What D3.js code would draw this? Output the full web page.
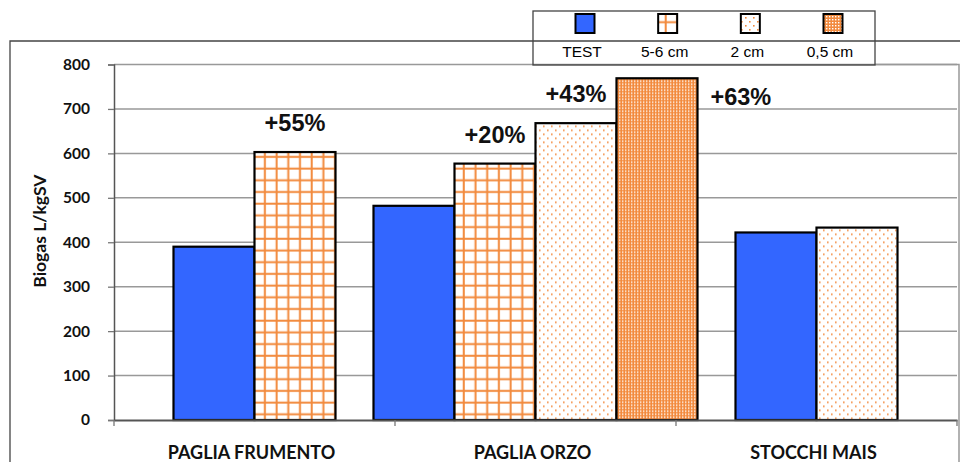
<!DOCTYPE html>
<html>
<head>
<meta charset="utf-8">
<script src="https://cdn.jsdelivr.net/npm/d3@7"></script>
<style>
  body { margin: 0; background: #fff; }
  svg { display: block; }
</style>
</head>
<body>
<svg id="chart" width="960" height="462"></svg>
<script>
const categories = ["PAGLIA FRUMENTO", "PAGLIA ORZO", "STOCCHI MAIS"];
const seriesNames = ["TEST", "5-6 cm", "2 cm", "0,5 cm"];
// values per category, in series order (null = no bar)
const frumento = [390, 603, null, null];
const orzo = [482, 577, 668, 769];
const mais = [422, null, 433, null];
const yTicks = [0, 100, 200, 300, 400, 500, 600, 700, 800];
const annotations = [
  { cat: "PAGLIA FRUMENTO", series: "5-6 cm", text: "+55%" },
  { cat: "PAGLIA ORZO", series: "5-6 cm", text: "+20%" },
  { cat: "PAGLIA ORZO", series: "2 cm", text: "+43%" },
  { cat: "PAGLIA ORZO", series: "0,5 cm", text: "+63%" }
];

const values = [frumento, orzo, mais];
const orange = "#f28a3d";

const svg = d3.select("#chart");
const margin = { top: 64.5, right: 3, bottom: 42, left: 114 };
const width = 960 - margin.left - margin.right;
const height = 462 - margin.top - margin.bottom;

// patterns
const defs = svg.append("defs");
const grid = defs.append("pattern").attr("id", "p-grid")
  .attr("patternUnits", "userSpaceOnUse").attr("width", 11.7).attr("height", 11.7);
grid.append("rect").attr("width", 11.7).attr("height", 11.7).attr("fill", "#fff");
grid.append("rect").attr("x", 9.5).attr("width", 2).attr("height", 11.7).attr("fill", orange);
grid.append("rect").attr("y", 9.5).attr("width", 11.7).attr("height", 2).attr("fill", orange);

const dots = defs.append("pattern").attr("id", "p-dots")
  .attr("patternUnits", "userSpaceOnUse").attr("width", 8).attr("height", 8);
dots.append("rect").attr("width", 8).attr("height", 8).attr("fill", "#fff");
dots.append("rect").attr("x", 1).attr("y", 1).attr("width", 1.6).attr("height", 1.6).attr("fill", orange);
dots.append("rect").attr("x", 5).attr("y", 5).attr("width", 1.6).attr("height", 1.6).attr("fill", orange);

const dense = defs.append("pattern").attr("id", "p-dense")
  .attr("patternUnits", "userSpaceOnUse").attr("width", 3).attr("height", 3);
dense.append("rect").attr("width", 3).attr("height", 3).attr("fill", orange);
dense.append("rect").attr("x", 1).attr("y", 1).attr("width", 1.4).attr("height", 1.4).attr("fill", "#fff");

const fills = {
  "TEST": "#3366ff",
  "5-6 cm": "url(#p-grid)",
  "2 cm": "url(#p-dots)",
  "0,5 cm": "url(#p-dense)"
};

// outer frame
svg.append("path").attr("d", "M10,462V41H960")
  .attr("fill", "none").attr("stroke", "#444").attr("stroke-width", 1.3);
svg.append("path").attr("d", "M875,64.5H959V462")
  .attr("fill", "none").attr("stroke", "#999").attr("stroke-width", 1.5);

const g = svg.append("g").attr("transform", `translate(${margin.left},${margin.top})`);

const x = d3.scaleBand().domain(categories).range([0, width]).padding(0);
const y = d3.scaleLinear().domain([0, 800]).range([height, 0]);
const barW = 81;

// gridlines
g.append("g").selectAll("line").data(yTicks.slice(1)).join("line")
  .attr("x1", 0).attr("x2", width)
  .attr("y1", d => y(d)).attr("y2", d => y(d))
  .attr("stroke", "#999").attr("stroke-width", 1.5);

// bars
const barData = [];
categories.forEach((c, ci) => {
  const present = seriesNames.filter((s, si) => values[ci][si] != null);
  const inner = d3.scaleBand().domain(present)
    .range([x(c) + x.bandwidth() / 2 - present.length * barW / 2,
            x(c) + x.bandwidth() / 2 + present.length * barW / 2]);
  present.forEach(s => {
    barData.push({ cat: c, series: s, value: values[ci][seriesNames.indexOf(s)],
      x0: inner(s), w: inner.bandwidth() });
  });
});

g.selectAll(".bar").data(barData).join("rect")
  .attr("class", "bar")
  .attr("x", d => d.x0)
  .attr("y", d => y(d.value))
  .attr("width", d => d.w)
  .attr("height", d => y(0) - y(d.value))
  .attr("fill", d => fills[d.series])
  .attr("stroke", "#000")
  .attr("stroke-width", 2.2);

// y axis
const yAxis = g.append("g")
  .call(d3.axisLeft(y).tickValues(yTicks).tickSize(6).tickPadding(18));
yAxis.select(".domain").attr("stroke", "#555").attr("stroke-width", 1.5);
yAxis.selectAll(".tick line").attr("stroke", "#777").attr("stroke-width", 1.3);
yAxis.selectAll("text")
  .attr("font-family", "Lato, 'Open Sans', sans-serif")
  .attr("font-weight", "bold").attr("font-size", "15.5px").attr("fill", "#111");

// x axis
const xAxis = g.append("g").attr("transform", `translate(0,${height})`)
  .call(d3.axisBottom(x).tickSize(0).tickPadding(26));
xAxis.select(".domain").attr("stroke", "#555").attr("stroke-width", 2);
xAxis.selectAll("text")
  .attr("font-family", "Lato, 'Open Sans', sans-serif")
  .attr("font-weight", "bold").attr("font-size", "18px").attr("fill", "#111")
  .attr("dx", "-3");
xAxis.append("g").selectAll("line")
  .data([0, ...categories.map(c => x(c) + x.bandwidth())])
  .join("line")
  .attr("x1", d => d).attr("x2", d => d).attr("y1", 0).attr("y2", 6)
  .attr("stroke", "#777").attr("stroke-width", 1.3);

// y title
g.append("text")
  .attr("transform", `translate(-68,${y(425)}) rotate(-90)`)
  .attr("text-anchor", "middle")
  .attr("font-family", "Lato, 'Open Sans', sans-serif")
  .attr("font-weight", "bold").attr("font-size", "17.5px").attr("fill", "#111")
  .text("Biogas L/kgSV");

// annotations
annotations.forEach(a => {
  const b = barData.find(d => d.cat === a.cat && d.series === a.series);
  const top = y(b.value);
  const tallest = b.value === d3.max(barData, d => d.value);
  g.append("text")
    .attr("x", tallest ? b.x0 + b.w + 13 : b.x0 + b.w / 2)
    .attr("y", tallest ? top + 27 : top - 21)
    .attr("text-anchor", tallest ? "start" : "middle")
    .attr("font-family", "'Liberation Sans', Arial, sans-serif")
    .attr("font-weight", "bold").attr("font-size", "23.5px").attr("fill", "#111")
    .text(a.text);
});

// legend
const legend = svg.append("g");
legend.append("rect").attr("x", 533).attr("y", 11).attr("width", 342).attr("height", 54)
  .attr("fill", "none").attr("stroke", "#444").attr("stroke-width", 1.3);
const lx = d3.scalePoint().domain(seriesNames).range([585, 833]);
legend.selectAll(".sw").data(seriesNames).join("rect")
  .attr("x", d => lx(d) - 9.5).attr("y", 14)
  .attr("width", 19).attr("height", 19)
  .attr("fill", d => fills[d]).attr("stroke", "#000").attr("stroke-width", 2);
legend.selectAll(".lt").data(seriesNames).join("text")
  .attr("x", d => lx(d) - 3).attr("y", 57)
  .attr("text-anchor", "middle")
  .attr("font-family", "'Liberation Sans', Arial, sans-serif")
  .attr("font-size", "15.5px").attr("fill", "#000")
  .text(d => d);
</script>
</body>
</html>
